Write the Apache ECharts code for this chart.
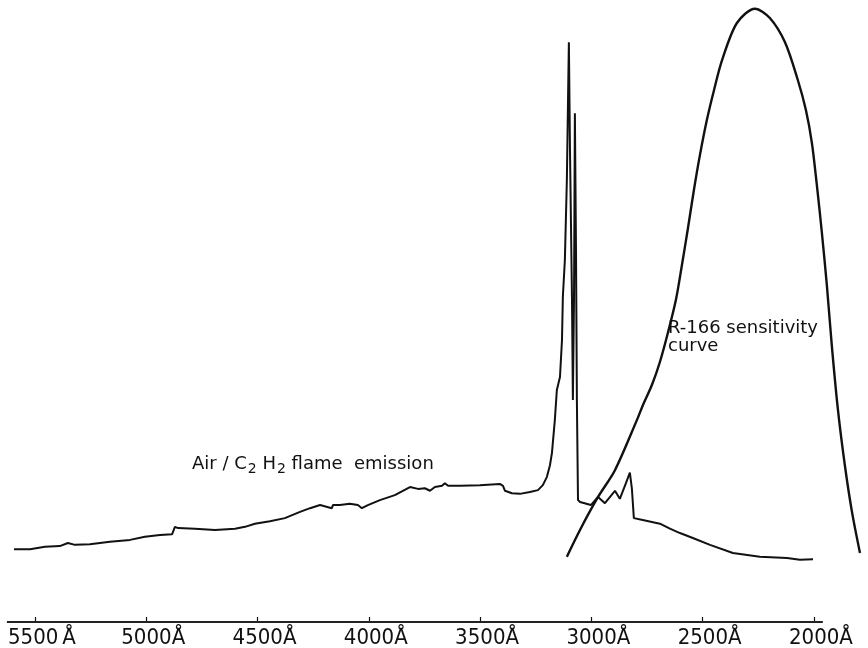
<!DOCTYPE html>
<html>
<head>
<meta charset="utf-8">
<script src="https://cdn.jsdelivr.net/npm/echarts@6/dist/echarts.min.js"></script>
<style>html,body{margin:0;padding:0;background:#fff;}#c{width:868px;height:648px;}</style>
</head>
<body>
<div id="c"></div>
<script>
// Wavelength tick labels (Å)
const tickValues = [5500, 5000, 4500, 4000, 3500, 3000, 2500, 2000];
const tickLabels = ['5500\u2009', '5000', '4500', '4000', '3500', '3000', '2500', '2000'];

// Air/C2H2 flame emission: wavelength (Å) and relative intensity
const emissionWavelength = [5594,5522,5455,5388,5352,5320,5253,5163,5073,5006,4938,4884,4871,4857,4781,4691,4601,4556,4512,4444,4377,4309,4264,4219,4166,4161,4130,4085,4049,4031,4004,3950,3883,3815,3779,3748,3725,3703,3671,3658,3644,3590,3501,3411,3397,3388,3357,3321,3276,3240,3218,3200,3186,3177,3164,3155,3141,3132,3128,3119,3110,3101,3096,3087,3083,3078,3074,3069,3065,3060,3051,3002,2970,2939,2894,2872,2845,2827,2818,2809,2769,2692,2647,2602,2544,2467,2364,2243,2121,2063,2004];
const emissionIntensity = [11.7,11.7,12.1,12.2,12.7,12.4,12.5,12.9,13.2,13.7,14.0,14.1,15.3,15.1,15.0,14.8,15.0,15.3,15.8,16.2,16.7,17.7,18.3,18.8,18.3,18.8,18.8,19.0,18.8,18.3,18.8,19.6,20.4,21.7,21.4,21.5,21.1,21.7,21.9,22.3,21.9,21.9,22.0,22.2,21.9,21.1,20.7,20.6,20.9,21.2,22.0,23.3,25.2,27.2,32.5,37.3,39.4,45.3,52.3,58.2,71.1,93.2,75.9,51.8,35.7,51.8,81.8,59.8,35.7,19.6,19.3,18.8,20.1,19.1,21.1,19.8,22.3,24.0,21.5,16.7,16.4,15.8,15.0,14.3,13.5,12.4,11.1,10.5,10.3,10.0,10.1];

// R-166 sensitivity curve: wavelength (Å) and relative sensitivity
const sensWavelength = [3110,3051,2970,2894,2795,2768,2728,2692,2656,2620,2593,2566,2539,2512,2481,2449,2412,2346,2265,2198,2130,2072,2036,2009,1987,1964,1942,1919,1892,1861,1829,1793];
const sensValue = [10.5,14.8,20.1,24.4,32.5,34.9,38.1,41.8,46.5,51.8,57.4,63.3,69.5,75.1,80.7,85.5,90.4,96.3,98.6,97.1,93.2,87.1,82.3,77.0,70.3,62.5,54.2,44.2,34.1,25.2,17.7,11.1];

// Extent of the drawn wavelength axis line (Å)
const axisLineRange = [5626, 1960];

const zip = (a, b) => a.map((v, i) => [v, b[i]]);
const labelMap = {};
tickValues.forEach((v, i) => { labelMap[v] = tickLabels[i]; });

const FONT_C = 'DejaVu Sans Condensed, DejaVu Sans';
const FONT = 'DejaVu Sans';

const chart = echarts.init(document.getElementById('c'));
chart.setOption({
  backgroundColor: '#ffffff',
  animation: false,
  grid: { left: 0, right: 0, top: 0, bottom: 26, containLabel: false, outerBoundsMode: 'none' },
  xAxis: {
    type: 'value', inverse: true, min: 1757, max: 5657,
    axisLine: { show: false },
    splitLine: { show: false },
    axisTick: { show: true, inside: true, length: 5, customValues: tickValues, lineStyle: { color: '#111', width: 1.2 } },
    axisLabel: {
      customValues: tickValues,
      margin: 5,
      hideOverlap: false,
      formatter: v => '{p|}{n|' + labelMap[v] + '}{a|Å}',
      rich: {
        p: { width: 14, fontSize: 22 },
        n: { fontSize: 22, fontFamily: FONT_C, color: '#111' },
        a: { fontSize: 22, fontFamily: FONT_C, color: '#111' }
      }
    }
  },
  yAxis: { type: 'value', min: 0, max: 100, show: false },
  series: [
    {
      type: 'line', data: [[axisLineRange[0], 0], [axisLineRange[1], 0]],
      symbol: 'none', clip: false, silent: true,
      lineStyle: { color: '#222', width: 2 }
    },
    {
      type: 'line', data: zip(emissionWavelength, emissionIntensity),
      symbol: 'none', smooth: false,
      lineStyle: { color: '#111', width: 2 }
    },
    {
      type: 'line', data: zip(sensWavelength, sensValue),
      symbol: 'none', smooth: 0.3,
      lineStyle: { color: '#111', width: 2.4 }
    }
  ],
  graphic: [
    {
      type: 'text', left: 192, top: 452,
      style: {
        text: '{t|Air / C}{s|2}{t| H}{s|2}{t| flame  emission}',
        rich: {
          t: { fontSize: 18, fontFamily: FONT, fill: '#111', lineHeight: 22 },
          s: { fontSize: 14, fontFamily: FONT, fill: '#111', padding: [10, 0, 0, 1], lineHeight: 22 }
        }
      }
    },
    {
      type: 'text', left: 668, top: 319,
      style: {
        text: 'R-166 sensitivity\ncurve',
        fontSize: 18, lineHeight: 18, fontFamily: FONT, fill: '#111'
      }
    }
  ]
});
</script>
</body>
</html>
